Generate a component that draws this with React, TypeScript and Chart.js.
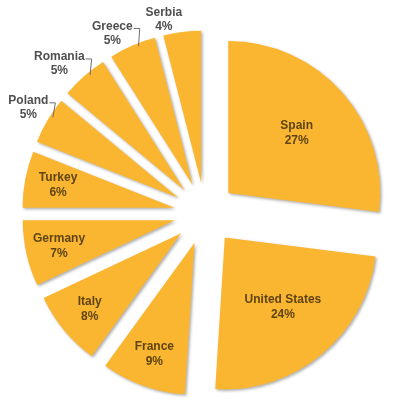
import React, { useEffect, useRef } from "react";
import { Chart, registerables } from "chart.js";

Chart.register(...registerables);

const categories = [
  "Spain",
  "United States",
  "France",
  "Italy",
  "Germany",
  "Turkey",
  "Poland",
  "Romania",
  "Greece",
  "Serbia",
];
const shares = [27, 24, 9, 8, 7, 6, 5, 5, 5, 4];

const FILL = "#FBB631";
const EXPLODE_PX = 31; // visual translation of each slice
const OFFSET_OPT = EXPLODE_PX * 4; // Chart.js translates by offset / 4
const RADIUS = 152;
const FONT = "bold 12px 'Liberation Sans', Arial, sans-serif";
const LINE_H = 15;
const INSIDE_COLOR = "#5E4412";
const OUTSIDE_COLOR = "#4F4F4F";

const explodePlugin = {
  id: "explodeLabels",
  afterDatasetsUpdate(chart: any) {
    const meta = chart.getDatasetMeta(0);
    meta.data.forEach((arc: any) => {
      const o = (OFFSET_OPT / 4) * (1 - Math.sin(Math.min(Math.PI, arc.circumference)));
      const R = arc.outerRadius;
      arc.outerRadius = R - o;
      const delta = o / (2 * Math.PI * R);
      arc.startAngle -= delta;
      arc.endAngle += delta;
    });
  },
  beforeDatasetsDraw(chart: any) {
    const ctx = chart.ctx;
    ctx.save();
    ctx.shadowColor = "rgba(0,0,0,0.32)";
    ctx.shadowBlur = 3;
    ctx.shadowOffsetX = 1.5;
    ctx.shadowOffsetY = 1.5;
  },
  afterDatasetsDraw(chart: any) {
    const ctx = chart.ctx;
    ctx.restore();
    const meta = chart.getDatasetMeta(0);
    const total = shares.reduce((a, b) => a + b, 0);
    ctx.save();
    ctx.font = FONT;
    ctx.textAlign = "center";
    ctx.textBaseline = "middle";
    meta.data.forEach((arc: any, i: number) => {
      const pct = Math.round((shares[i] / total) * 100);
      const l1 = categories[i];
      const l2 = pct + "%";
      const mid = (arc.startAngle + arc.endAngle) / 2;
      const dx = Math.cos(mid);
      const dy = Math.sin(mid);
      const cx = arc.x;
      const cy = arc.y;
      if (pct >= 6) {
        const dist = EXPLODE_PX + RADIUS * (pct > 20 ? 0.6 : 0.78);
        const x = cx + dx * dist;
        const y = cy + dy * dist;
        ctx.fillStyle = INSIDE_COLOR;
        ctx.fillText(l1, x, y - LINE_H / 2);
        ctx.fillText(l2, x, y + LINE_H / 2);
      } else {
        const w = Math.max(ctx.measureText(l1).width, ctx.measureText(l2).width);
        const dist = EXPLODE_PX + RADIUS - 1;
        const px = cx + dx * dist;
        const py = cy + dy * dist;
        const x = dx < 0 ? px - w / 2 : px + w / 2;
        const y2 = dy < 0 ? py - 6 : py + 6 + 14;
        const y1 = y2 - 14;
        ctx.fillStyle = OUTSIDE_COLOR;
        ctx.fillText(l1, x, y1);
        ctx.fillText(l2, x, y2);
        if (dx < -0.2) {
          const w1 = ctx.measureText(l1).width;
          const sx = x + w1 / 2 + 1;
          const sy = y1 + 2;
          const ed = EXPLODE_PX + RADIUS - 3;
          const ex = cx + Math.cos(mid + 0.03) * ed;
          const ey = cy + Math.sin(mid + 0.03) * ed;
          ctx.strokeStyle = "#6E6E6E";
          ctx.lineWidth = 1;
          ctx.beginPath();
          ctx.moveTo(sx, sy);
          ctx.lineTo(sx + 6, sy);
          ctx.lineTo(ex, ey);
          ctx.stroke();
        }
      }
    });
    ctx.restore();
  },
};

export default function App() {
  const canvasRef = useRef<HTMLCanvasElement | null>(null);

  useEffect(() => {
    if (!canvasRef.current) return;
    const chart = new Chart(canvasRef.current, {
      type: "pie",
      data: {
        labels: categories,
        datasets: [
          {
            data: shares,
            backgroundColor: FILL,
            borderWidth: 0,
            offset: OFFSET_OPT,
            radius: RADIUS,
          } as any,
        ],
      },
      options: {
        responsive: false,
        animation: false,
        layout: { padding: { left: 13, right: 0, top: 26, bottom: 0 } },
        plugins: {
          legend: { display: false },
          tooltip: { enabled: false },
        },
        events: [],
      },
      plugins: [explodePlugin as any],
    });
    return () => chart.destroy();
  }, []);

  return (
    <div style={{ position: "absolute", left: 0, top: 0, width: 397, height: 401, background: "#fff" }}>
      <canvas ref={canvasRef} width={397} height={401} style={{ display: "block" }} />
    </div>
  );
}
